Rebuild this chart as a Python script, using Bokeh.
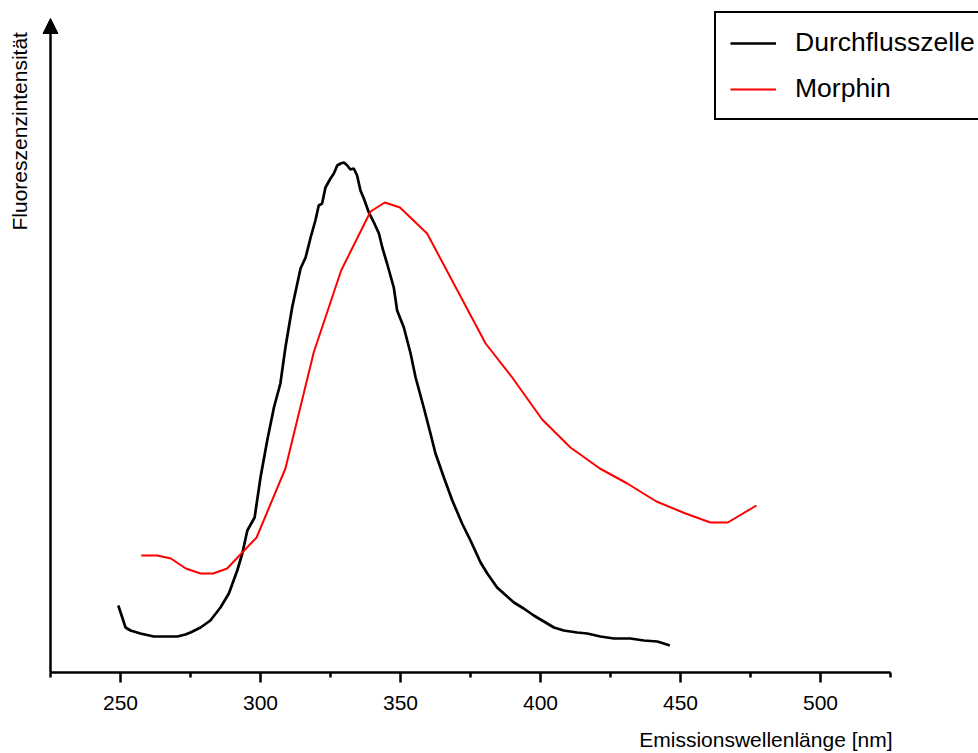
import math
from bokeh.plotting import figure
from bokeh.models import (Arrow, NormalHead, Label, Legend, LegendItem,
                          FixedTicker, Range1d, LinearAxis)
from bokeh.embed import file_html
from bokeh.resources import INLINE

# Durchflusszelle (black) spectrum, emission wavelength [nm] vs intensity (a.u.)
flow_nm = [249.2, 250.4, 251.8, 253.6, 257.1, 261.9, 266.1, 270.3, 273.2, 275.0,
           278.6, 282.1, 285.7, 288.7, 291.7, 293.5, 295.3, 297.9, 300.0, 302.4,
           304.8, 307.1, 308.9, 311.3, 314.3, 316.1, 317.9, 319.6, 320.8, 322.0,
           323.2, 325.0, 326.2, 327.4, 328.6, 329.8, 331.0, 332.1, 333.3, 334.5,
           335.7, 336.9, 338.7, 340.5, 342.3, 343.5, 345.2, 347.6, 348.8, 351.2,
           353.6, 355.4, 358.3, 360.7, 362.5, 365.5, 368.5, 372.0, 375.0, 378.6,
           381.0, 384.5, 386.9, 390.5, 394.0, 397.6, 400.0, 404.8, 408.3, 413.1,
           416.7, 421.4, 426.2, 432.1, 436.9, 441.7, 444.0, 446.2]
flow_int = [67, 57, 45, 42, 39, 36, 36, 36, 38, 40,
            45, 52, 65, 79, 102, 119, 142, 155, 195, 232,
            265, 289, 325, 365, 404, 415, 435, 452, 467, 469,
            485, 494, 499, 507, 509, 510, 507, 503, 504, 497,
            482, 474, 460, 450, 439, 425, 409, 385, 362, 345,
            319, 295, 265, 239, 219, 195, 172, 149, 132, 110,
            99, 85, 79, 70, 64, 57, 53, 45, 42, 40,
            39, 36, 34, 34, 32, 31, 29, 27]

# Morphin (red) spectrum
morph_nm = [257.4, 263.1, 268.0, 273.3, 278.6, 283.1, 288.1, 298.6, 308.9, 319.0,
            328.8, 339.3, 344.4, 349.8, 359.5, 380.4, 389.9, 400.6, 410.7, 421.2,
            431.0, 441.4, 451.8, 460.7, 466.9, 477.1]
morph_int = [117, 117, 114, 104, 99, 99, 104, 135, 204, 320,
             402, 461, 470, 465, 439, 329, 295, 253, 225, 204,
             189, 171, 159, 150, 150, 167]

major_ticks = [250, 300, 350, 400, 450, 500]
minor_ticks = [225, 275, 325, 375, 425, 475, 525]
x_bounds = (225, 525)
series_names = ["Durchflusszelle", "Morphin"]
x_title = "Emissionswellenlänge [nm]"
y_title = "Fluoreszenzintensität"

FONT = "Liberation Sans"
PX = 2.8  # pixels per nm
X0 = 225 - 50 / PX

p = figure(width=978, height=753, output_backend="svg", toolbar_location=None,
           x_range=Range1d(X0, X0 + 978 / PX), y_range=Range1d(-81, 672),
           x_axis_location=None, y_axis_location=None,
           min_border=0)
p.outline_line_color = None
p.grid.visible = False
p.background_fill_color = "white"
p.border_fill_color = "white"

ax = LinearAxis(fixed_location=0, bounds=x_bounds)
ax.ticker = FixedTicker(ticks=major_ticks, minor_ticks=minor_ticks)
ax.axis_line_width = 2.5
ax.axis_line_color = "black"
ax.major_tick_line_width = 2.5
ax.minor_tick_line_width = 2.5
ax.major_tick_line_color = "black"
ax.minor_tick_line_color = "black"
ax.major_tick_out = 10
ax.major_tick_in = 0
ax.minor_tick_out = 5
ax.minor_tick_in = 0
ax.major_label_text_font = FONT
ax.major_label_text_font_size = "21px"
ax.major_label_text_color = "black"
ax.major_label_standoff = 13
p.add_layout(ax, "below")

r_flow = p.line(flow_nm, flow_int, line_color="black", line_width=2.7)
r_morph = p.line(morph_nm, morph_int, line_color="#ff0000", line_width=2)

# y axis with arrow head
p.add_layout(Arrow(end=NormalHead(size=15, fill_color="black", line_color="black"),
                   x_start=225, y_start=0, x_end=225, y_end=654,
                   line_width=2.5, line_color="black"))

p.add_layout(Label(x=225 + (19 - 50) / PX, y=442, text=y_title, angle=math.pi / 2,
                   text_align="left", text_baseline="alphabetic",
                   text_font=FONT, text_font_size="21px", text_color="black"))
p.add_layout(Label(x=225 + (892 - 50) / PX, y=672 - 739, text=x_title,
                   text_align="right", text_baseline="alphabetic",
                   text_font=FONT, text_font_size="21px", text_color="black"))

legend = Legend(items=[LegendItem(label=series_names[0], renderers=[r_flow]),
                       LegendItem(label=series_names[1], renderers=[r_morph])],
                location=(714, 753 - 120), label_text_font=FONT,
                label_text_font_size="26.5px", label_text_color="black",
                glyph_width=46, glyph_height=24, label_height=24,
                label_standoff=19, spacing=15, padding=14, margin=0,
                border_line_color="black", border_line_width=2,
                border_line_alpha=1.0,
                background_fill_alpha=1.0)
p.add_layout(legend)

open("out.html", "w").write(file_html(p, INLINE))
